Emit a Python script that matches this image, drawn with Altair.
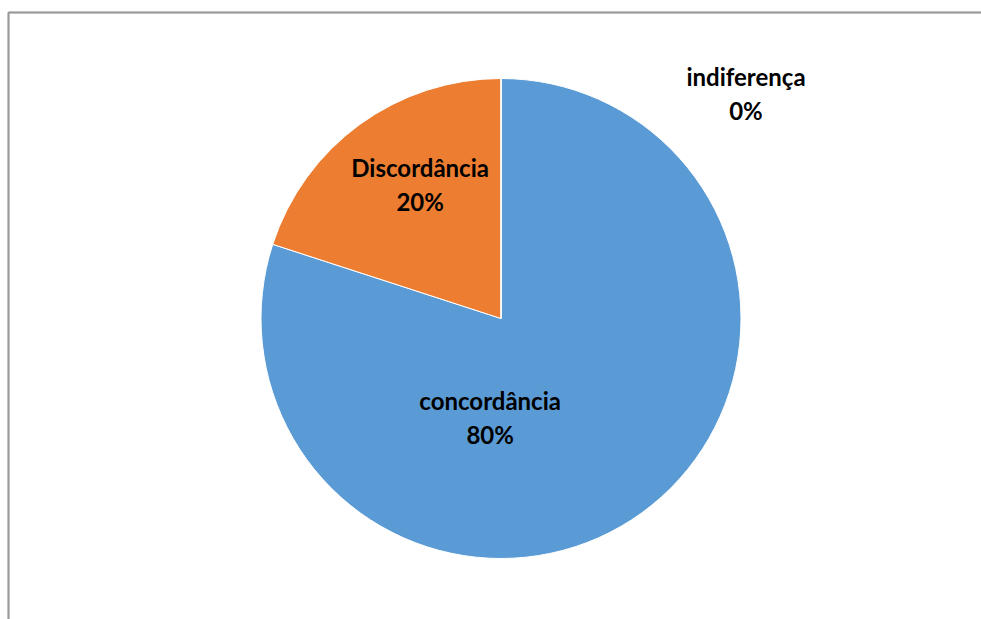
import altair as alt
import pandas as pd

categories = ["concordância", "Discordância", "indiferença"]
values = [80, 20, 0]
colors = ["#5B9BD5", "#ED7D31", "#A5A5A5"]

df = pd.DataFrame({
    "cat": categories,
    "val": values,
    "idx": list(range(len(categories))),
    "label": [[c, f"{v}%"] for c, v in zip(categories, values)],
})
TOTAL = sum(values)

W, H = 981, 619
CX, CY, R = 501, 318.5, 240
theta_scale = alt.Scale(domain=[0, TOTAL])

pie = alt.Chart(df).mark_arc(radius=R, stroke="white", strokeWidth=1).encode(
    theta=alt.Theta("val:Q", stack=True, scale=theta_scale),
    order=alt.Order("idx:Q"),
    color=alt.Color("cat:N", scale=alt.Scale(domain=categories, range=colors), legend=None),
    x=alt.value(CX), y=alt.value(CY),
)

FONT = "Lato"

def lab(cat, radius, dx, dy=0):
    return alt.Chart(df).transform_window(
        cum="sum(val)", sort=[alt.SortField("idx")], frame=[None, 0]
    ).transform_calculate(
        mid="datum.cum - datum.val / 2"
    ).transform_filter(
        alt.datum.cat == cat
    ).mark_text(
        radius=radius, dx=dx, dy=dy, font=FONT, fontSize=24, fontWeight="bold",
        color="black", align="center", baseline="middle", lineHeight=34,
    ).encode(
        theta=alt.Theta("mid:Q", scale=theta_scale),
        text="label", x=alt.value(CX), y=alt.value(CY),
    )

labels = [
    lab("concordância", 104, -72),
    lab("Discordância", 183.5, 27),
    lab("indiferença", 239.5, 245),
]

frame_h = alt.Chart(df).mark_rule(color="#999999", strokeWidth=1.5).encode(
    x=alt.value(8.5), x2=alt.value(W), y=alt.value(12.5)
)
frame_v = alt.Chart(df).mark_rule(color="#999999", strokeWidth=1.5).encode(
    x=alt.value(8.5), y=alt.value(12.5), y2=alt.value(H)
)

chart = alt.layer(frame_h, frame_v, pie, *labels).properties(
    width=W, height=H, padding=0, autosize=alt.AutoSizeParams(type="none")
).configure_view(stroke=None)

chart.save("out.html", embed_options={"renderer": "svg", "actions": False})
